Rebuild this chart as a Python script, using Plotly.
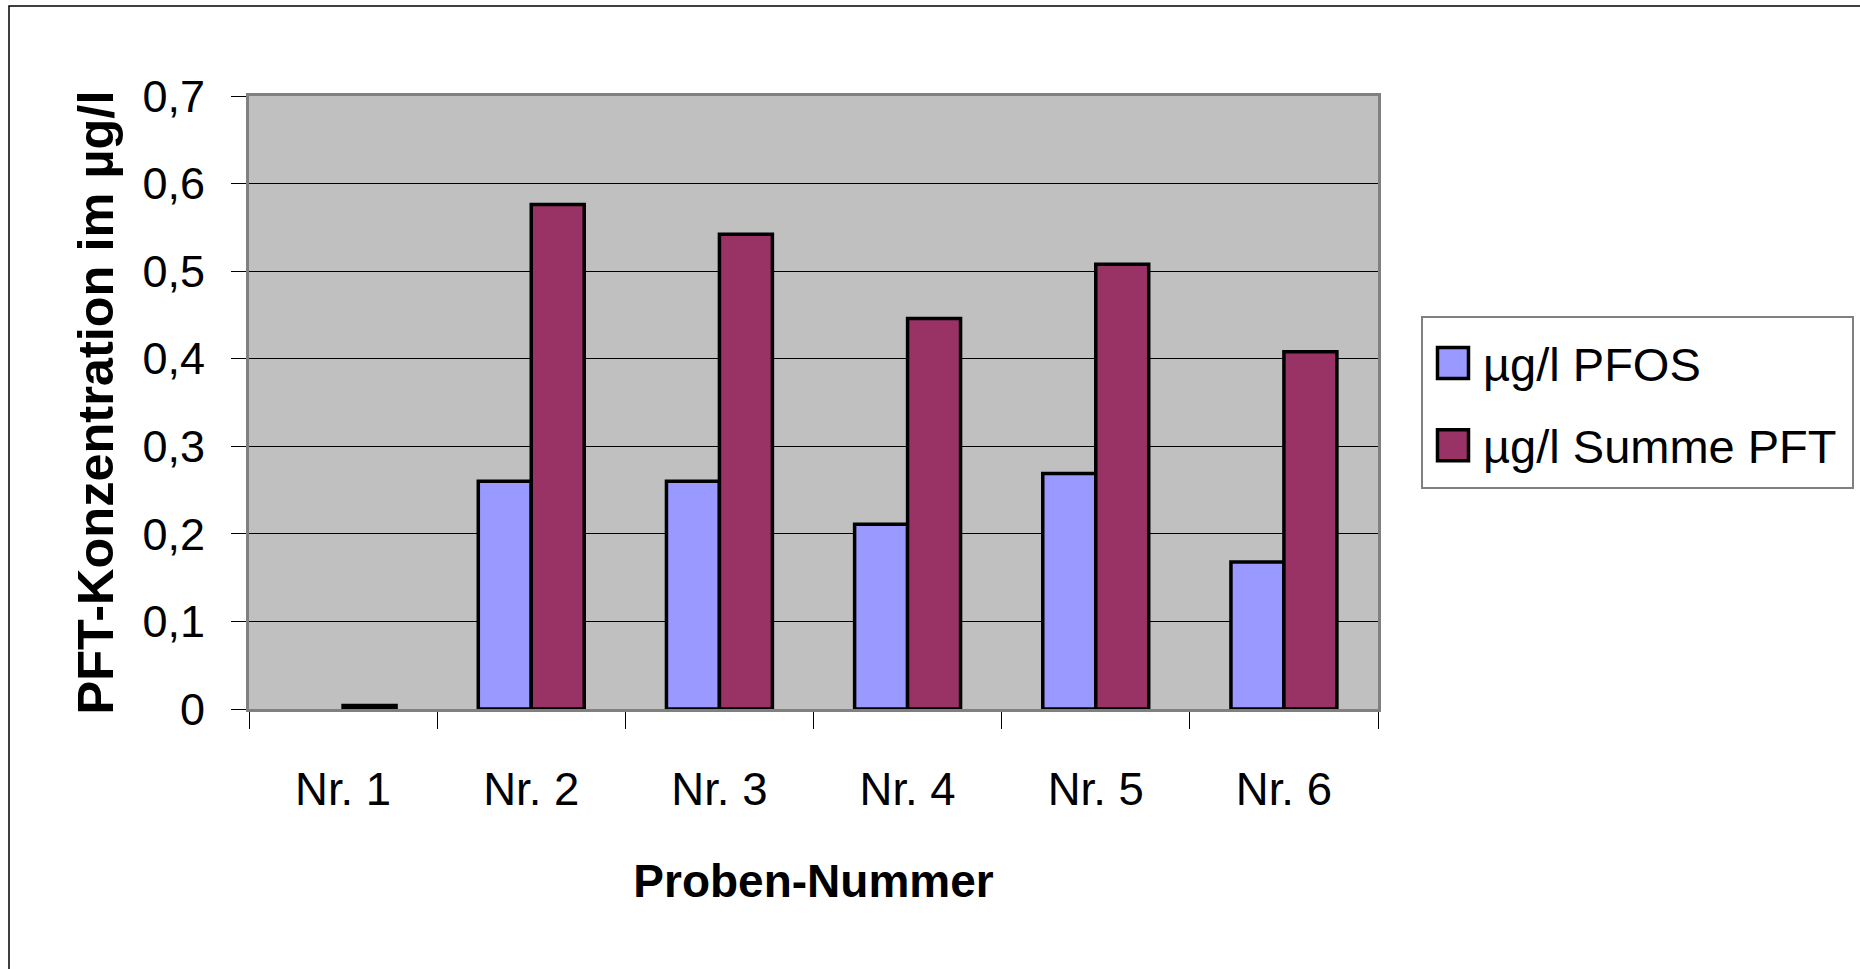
import plotly.graph_objects as go

categories = ["Nr. 1", "Nr. 2", "Nr. 3", "Nr. 4", "Nr. 5", "Nr. 6"]
pfos = [None, 0.26, 0.26, 0.211, 0.269, 0.168]
summe_pft = [0.004, 0.576, 0.542, 0.446, 0.508, 0.408]
series_names = ["µg/l PFOS", "µg/l Summe PFT"]
y_ticks = [0, 0.1, 0.2, 0.3, 0.4, 0.5, 0.6, 0.7]

FONT = "Arial, Liberation Sans, sans-serif"
W, H = 1860, 969
L, R, T, B = 249, 1378, 96, 709

fig = go.Figure()
fig.add_trace(go.Bar(x=categories, y=pfos, name=series_names[0], legendgroup="a",
                     marker=dict(color="#9999FF", line=dict(color="black", width=3.5))))
fig.add_trace(go.Bar(x=categories, y=summe_pft, name=series_names[1], legendgroup="b",
                     marker=dict(color="#993366", line=dict(color="black", width=3.5))))

pw = R - L
ph = B - T
def px(x):
    return (x - L) / pw
def py(y):
    return (B - y) / ph

fig.update_layout(
    width=W, height=H,
    margin=dict(l=L, r=W - R, t=T, b=H - B),
    paper_bgcolor="white",
    plot_bgcolor="#C0C0C0",
    separators=",.",
    barmode="group",
    bargap=0.437,
    bargroupgap=0,
    font=dict(family=FONT, color="black", size=45),
    showlegend=True,
    legend=dict(
        x=px(1421), y=py(324), xanchor="left", yanchor="top",
        bgcolor="white", bordercolor="#808080", borderwidth=2,
        font=dict(family=FONT, size=47, color="black"),
        itemwidth=50, tracegroupgap=18,
    ),
    xaxis=dict(
        tickson="boundaries", ticks="outside", ticklen=17, tickcolor="black", tickwidth=1,
        showline=True, linecolor="#808080", linewidth=3, mirror=True,
        showgrid=False, ticklabelstandoff=38,
        tickfont=dict(family=FONT, size=45.5),
        title=dict(text="<b>Proben-Nummer</b>", font=dict(family=FONT, size=46), standoff=52),
    ),
    yaxis=dict(
        range=[0, 0.7], tickvals=y_ticks, ticks="outside", ticklen=15, tickcolor="black", tickwidth=1,
        showline=True, linecolor="#808080", linewidth=3, mirror=True,
        showgrid=True, gridcolor="black", gridwidth=1, zeroline=False,
        ticklabelstandoff=17,
        tickfont=dict(family=FONT, size=45),
        title=dict(text="<b>PFT-Konzentration im µg/l</b>", font=dict(family=FONT, size=50.5), standoff=13),
    ),
    shapes=[dict(type="rect", xref="paper", yref="paper",
                 x0=px(9), x1=px(1900), y0=py(1000), y1=py(6),
                 line=dict(color="black", width=1.5), fillcolor="rgba(0,0,0,0)", layer="below")],
)

post = """
document.body.style.margin = '0';
document.body.style.padding = '0';
var gd = document.getElementsByClassName('plotly-graph-div')[0];
gd.querySelectorAll('.legend .legendpoints path').forEach(function(p){
  p.setAttribute('d', 'M15.5,15.5H-15.5V-15.5H15.5Z');
});
gd.querySelectorAll('.legend rect.bg').forEach(function(r){
  var y = parseFloat(r.getAttribute('y')) || 0;
  var h = parseFloat(r.getAttribute('height')) || 0;
  var w = parseFloat(r.getAttribute('width')) || 0;
  r.setAttribute('y', y - 8);
  r.setAttribute('height', h + 12);
  r.setAttribute('width', w + 10);
});
"""
fig.write_html("out.html", post_script=post, config={"displayModeBar": False})
